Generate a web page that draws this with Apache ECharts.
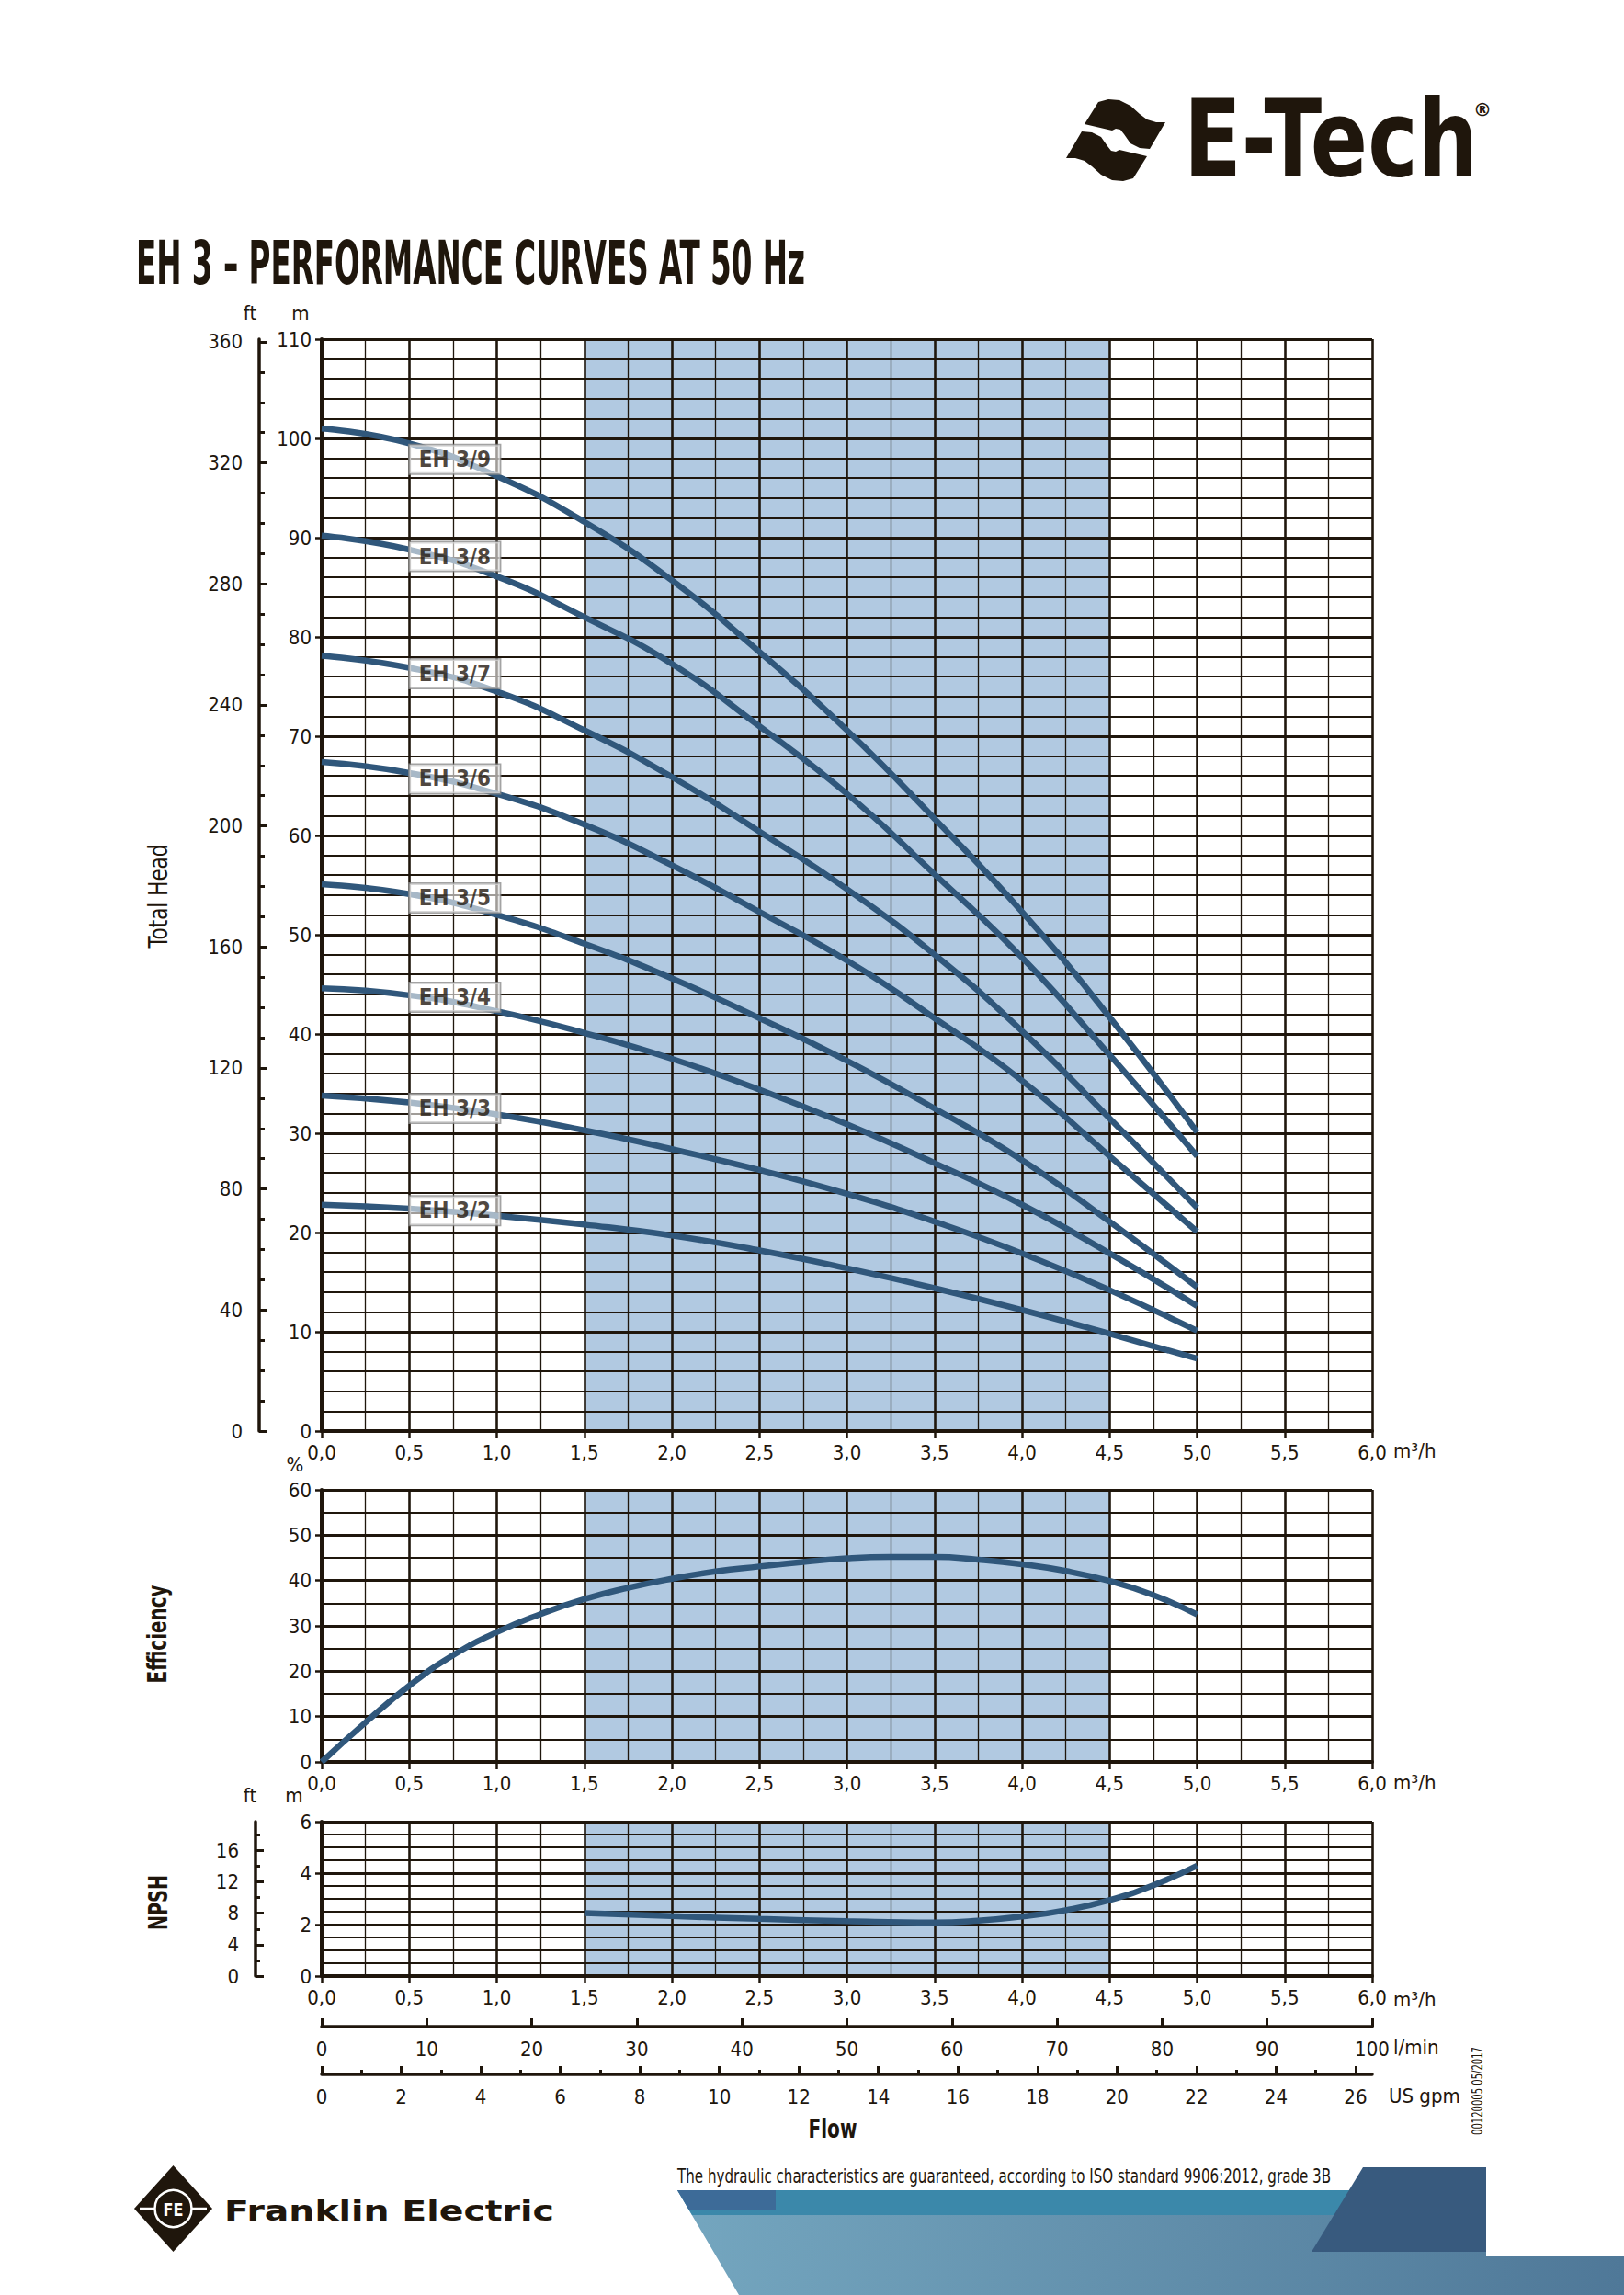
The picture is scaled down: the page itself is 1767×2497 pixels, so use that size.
<!DOCTYPE html>
<html>
<head>
<meta charset="utf-8">
<title>EH 3 - Performance curves at 50 Hz</title>
<script src="https://cdn.jsdelivr.net/npm/echarts@6.0.0/dist/echarts.min.js"></script>
<style>
  html, body { margin: 0; padding: 0; background: #fff; }
  #chart { width: 1767px; height: 2497px; }
</style>
</head>
<body>
<div id="chart"></div>
<script>
/* curve data (flow in m3/h, head in m) */
var flowQ = [0, 0.5, 1.0, 1.5, 2.0, 2.5, 3.0, 3.5, 4.0, 4.5, 5.0];
var headEH32 = [22.8, 22.4, 21.7, 20.8, 19.7, 18.2, 16.4, 14.4, 12.2, 9.8, 7.3];
var headEH33 = [33.8, 33.1, 31.9, 30.3, 28.4, 26.3, 23.9, 21.1, 17.9, 14.2, 10.1];
var headEH34 = [44.6, 43.9, 42.3, 40.1, 37.5, 34.4, 30.9, 27.0, 22.8, 17.9, 12.6];
var headEH35 = [55.1, 54.1, 52.0, 49.1, 45.6, 41.6, 37.3, 32.5, 27.3, 21.1, 14.5];
var headEH36 = [67.4, 66.3, 64.2, 61.1, 57.0, 52.3, 47.4, 41.6, 35.3, 27.7, 20.1];
var headEH37 = [78.1, 76.9, 74.5, 70.6, 65.9, 60.4, 54.6, 48.0, 40.3, 31.5, 22.5];
var headEH38 = [90.2, 88.8, 86.1, 82.0, 77.3, 71.0, 64.2, 56.1, 47.7, 37.9, 27.7];
var headEH39 = [101.0, 99.5, 96.2, 91.6, 85.7, 78.5, 70.6, 61.7, 52.3, 41.7, 30.1];
var models = ['EH 3/2', 'EH 3/3', 'EH 3/4', 'EH 3/5', 'EH 3/6', 'EH 3/7', 'EH 3/8', 'EH 3/9'];
var labelFlow = 0.76;
var labelHead = [22.2, 32.5, 43.7, 53.7, 65.7, 76.3, 88.1, 97.9];

/* efficiency % */
var effFlow = [0, 0.25, 0.5, 0.75, 1.0, 1.25, 1.5, 1.75, 2.0, 2.25, 2.5, 2.75, 3.0, 3.25, 3.5, 3.75, 4.0, 4.25, 4.5, 4.75, 5.0];
var effValues = [0, 8.7, 16.8, 23.5, 28.6, 32.6, 35.9, 38.4, 40.4, 42.0, 43.1, 44.1, 44.9, 45.2, 45.2, 44.6, 43.6, 42.1, 39.9, 36.8, 32.5];

/* NPSH m */
var npshFlow = [1.5, 2.0, 2.5, 3.0, 3.5, 3.75, 4.0, 4.25, 4.5, 4.75, 5.0];
var npshValues = [2.45, 2.33, 2.22, 2.13, 2.08, 2.15, 2.31, 2.56, 2.95, 3.53, 4.29];

/* recommended range, axes */
var bandRange = [1.5, 4.5];
var headFtLabels = [0, 40, 80, 120, 160, 200, 240, 280, 320, 360];
var headFtMinor = [10, 20, 30, 50, 60, 70, 90, 100, 110, 130, 140, 150, 170, 180, 190, 210, 220, 230, 250, 260, 270, 290, 300, 310, 330, 340, 350];
var npshFtLabels = [0, 4, 8, 12, 16];
var npshFtMinor = [2, 6, 10, 14, 18];
var gpmLabels = [0, 2, 4, 6, 8, 10, 12, 14, 16, 18, 20, 22, 24, 26];
var gpmMinor = [1, 3, 5, 7, 9, 11, 13, 15, 17, 19, 21, 23, 25];

var M_TO_FT = 3.28084;
var M3H_TO_GPM = 4.40287;
var M3H_TO_LMIN = 1000 / 60;

var ink = '#1f160c';
var curveColor = '#30577b';
var bandColor = '#b1c9e1';
var narrow = "'Liberation Sans Narrow','DejaVu Sans Condensed',sans-serif";

var measureCtx = document.createElement('canvas').getContext('2d');
function fitScale(text, weight, size, family, width) {
    measureCtx.font = weight + ' ' + size + 'px ' + family;
    return width / measureCtx.measureText(text).width;
}
function fmtFlow(v) { return v.toFixed(1).replace('.', ','); }

var chart = echarts.init(document.getElementById('chart'), null, { renderer: 'svg' });

/* axes */
function flowAxis(gridIndex) {
    return {
        type: 'value', gridIndex: gridIndex, min: 0, max: 6, interval: 0.5, z: 3,
        axisLine: { show: true, onZero: false, lineStyle: { color: ink, width: 4 } },
        axisTick: { show: true, length: 8, lineStyle: { color: ink, width: 2.5 } },
        axisLabel: { color: ink, fontFamily: narrow, fontSize: 22, margin: 12, formatter: fmtFlow },
        splitLine: { show: true, lineStyle: { color: ink, width: 2.6 } },
        minorTick: { show: false, splitNumber: 2 },
        minorSplitLine: { show: true, lineStyle: { color: ink, width: 1.3 } }
    };
}
function valueAxis(gridIndex, max, interval, minorSplit) {
    return {
        type: 'value', gridIndex: gridIndex, min: 0, max: max, interval: interval, z: 3,
        axisLine: { show: true, onZero: false, lineStyle: { color: ink, width: 4 } },
        axisTick: { show: true, length: 7, lineStyle: { color: ink, width: 2.5 } },
        axisLabel: { color: ink, fontFamily: narrow, fontSize: 22, margin: 11 },
        splitLine: { show: true, lineStyle: { color: ink, width: 2.8 } },
        minorTick: { show: false, splitNumber: minorSplit },
        minorSplitLine: { show: true, lineStyle: { color: ink, width: 2 } }
    };
}
function rulerAxis(gridIndex, max, offset, ticks, len, withLabels) {
    return {
        type: 'value', gridIndex: gridIndex, min: 0, max: max, position: 'left', offset: offset, z: 3,
        axisLine: { show: withLabels, onZero: false, lineStyle: { color: ink, width: 3.5 } },
        axisTick: { show: true, inside: true, length: len, customValues: ticks, lineStyle: { color: ink, width: 3 } },
        axisLabel: { show: withLabels, customValues: ticks, color: ink, fontFamily: narrow, fontSize: 22, margin: 18 },
        splitLine: { show: false }
    };
}
function bottomScale(max, offset, opts) {
    return {
        type: 'value', gridIndex: 2, min: 0, max: max, position: 'bottom', offset: offset, z: 3,
        interval: opts.interval,
        axisLine: { show: opts.line, onZero: false, lineStyle: { color: ink, width: 3.5 } },
        axisTick: { show: true, inside: true, length: opts.len, customValues: opts.ticks, lineStyle: { color: ink, width: 3 } },
        axisLabel: { show: opts.labels, customValues: opts.ticks, color: ink, fontFamily: narrow, fontSize: 22, margin: 13 },
        splitLine: { show: false }
    };
}

var xAxes = [
    flowAxis(0), flowAxis(1), flowAxis(2),
    bottomScale(6 * M3H_TO_LMIN, 55, { interval: 10, line: true, len: 9, labels: true }),
    bottomScale(6 * M3H_TO_GPM, 107, { line: true, len: 9, labels: true, ticks: gpmLabels }),
    bottomScale(6 * M3H_TO_GPM, 107, { line: false, len: 5, labels: false, ticks: gpmMinor })
];
var yAxes = [
    valueAxis(0, 110, 10, 5),
    rulerAxis(0, 110 * M_TO_FT, 68, headFtLabels, 9, true),
    rulerAxis(0, 110 * M_TO_FT, 68, headFtMinor, 6, false),
    valueAxis(1, 60, 10, 2),
    valueAxis(2, 6, 2, 4),
    rulerAxis(2, 6 * M_TO_FT, 72, npshFtLabels, 9, true),
    rulerAxis(2, 6 * M_TO_FT, 72, npshFtMinor, 5, false)
];

/* series */
function bandSeries(xi, yi) {
    return {
        type: 'line', xAxisIndex: xi, yAxisIndex: yi, data: [], z: 1, silent: true,
        markArea: { silent: true, itemStyle: { color: bandColor }, data: [[{ xAxis: bandRange[0] }, { xAxis: bandRange[1] }]] }
    };
}
function curve(xi, yi, xs, ys, name) {
    return {
        type: 'line', name: name, xAxisIndex: xi, yAxisIndex: yi, z: 5, smooth: true, showSymbol: false,
        silent: true, lineStyle: { color: curveColor, width: 6.5 },
        data: xs.map(function (q, i) { return [q, ys[i]]; })
    };
}

var heads = [headEH32, headEH33, headEH34, headEH35, headEH36, headEH37, headEH38, headEH39];
var series = [bandSeries(0, 0), bandSeries(1, 3), bandSeries(2, 4)];
heads.forEach(function (h, i) { series.push(curve(0, 0, flowQ, h, models[i])); });
series.push(curve(1, 3, effFlow, effValues, 'Efficiency'));
series.push(curve(2, 4, npshFlow, npshValues, 'NPSH'));
models.forEach(function (m, i) {
    series.push({
        type: 'scatter', xAxisIndex: 0, yAxisIndex: 0, z: 7, silent: true,
        symbol: 'rect', symbolSize: 1, itemStyle: { color: 'rgba(0,0,0,0)' },
        data: [[labelFlow, labelHead[i]]],
        label: {
            show: true, position: 'inside', formatter: m,
            fontFamily: narrow, fontWeight: 'bold', fontSize: 24, color: ink,
            backgroundColor: 'rgba(255,255,255,0.72)', borderColor: '#8c8c8c', borderWidth: 1.5,
            padding: [4, 10, 3, 10]
        }
    });
});

/* page decorations */
var g = [];
function text(str, x, y, o) {
    o = o || {};
    var weight = o.weight || 'normal', size = o.size || 22, family = o.family || narrow;
    var el = {
        type: 'text', x: x, y: y, z: o.z || 10, silent: true, rotation: o.rotation || 0,
        style: { text: str, fill: o.color || ink, fontFamily: family, fontSize: size, fontWeight: weight,
                 align: o.align || 'left', verticalAlign: 'middle' }
    };
    if (o.width) { el.scaleX = fitScale(str, weight, size, family, o.width); }
    g.push(el);
}
function poly(points, fill, z) {
    g.push({ type: 'polygon', silent: true, z: z || 10, shape: { points: points }, style: { fill: fill } });
}

text('EH 3 – PERFORMANCE CURVES AT 50 Hz', 148, 287, { weight: 'bold', size: 66, width: 728 });

/* E-Tech logo: two swooshes, the lower one is the upper turned half a turn */
var swoosh = [[1180, 135], [1195, 111], [1206, 108], [1218, 109], [1230, 115], [1240, 124], [1248, 130],
    [1258, 133], [1268, 133], [1251, 162], [1240, 161], [1230, 156], [1223, 146], [1219, 141], [1214, 140], [1210, 142]];
poly(swoosh, ink);
poly(swoosh.map(function (p) { return [2428 - p[0], 305 - p[1]]; }), ink);
text('E-Tech', 1288, 151, { weight: 'bold', size: 115, family: "'DejaVu Sans',sans-serif", width: 320 });
text('®', 1613, 119, { weight: 'bold', size: 20, family: "'DejaVu Sans',sans-serif", align: 'center' });

/* axis titles and units */
text('ft', 272, 340, { size: 22, align: 'center' });
text('m', 327, 340, { size: 22, align: 'center' });
text('%', 321, 1593, { size: 22, align: 'center' });
text('ft', 272, 1953, { size: 22, align: 'center' });
text('m', 320, 1953, { size: 22, align: 'center' });
text('Total Head', 172, 975, { size: 28, align: 'center', rotation: Math.PI / 2, width: 113 });
text('Efficiency', 172, 1778, { size: 28, weight: 'bold', align: 'center', rotation: Math.PI / 2, width: 107 });
text('NPSH', 172, 2070, { size: 28, weight: 'bold', align: 'center', rotation: Math.PI / 2, width: 60 });
text('m³/h', 1516, 1578);
text('m³/h', 1516, 1939);
text('m³/h', 1516, 2175);
text('l/min', 1516, 2227);
text('US gpm', 1511, 2280);
text('Flow', 906, 2316, { size: 28, weight: 'bold', align: 'center', width: 53 });
text('00120005 05/2017', 1608, 2275, { size: 15, align: 'center', rotation: Math.PI / 2, width: 96 });

/* footer */
g.push({ type: 'polygon', silent: true, z: 8,
    shape: { points: [[737, 2383], [1617, 2383], [1617, 2455], [1767, 2455], [1767, 2497], [804, 2497]] },
    style: { fill: new echarts.graphic.LinearGradient(0, 0, 1, 0, [{ offset: 0, color: '#74a6bf' }, { offset: 1, color: '#4f7898' }]) } });
poly([[737, 2383], [1500, 2383], [1500, 2410], [753, 2410]], '#3b88aa', 9);
poly([[737, 2383], [844, 2383], [844, 2405], [750, 2405]], '#3d6b98', 9);
poly([[1483, 2358], [1617, 2358], [1617, 2450], [1427, 2450]], '#385a7e', 9);
text('The hydraulic characteristics are guaranteed, according to ISO standard 9906:2012, grade 3B', 737, 2368, { size: 22, width: 712 });

/* Franklin Electric logo */
poly([[146, 2403], [188.5, 2356], [231, 2403], [188.5, 2450]], ink, 10);
g.push({ type: 'line', silent: true, z: 11, shape: { x1: 152, y1: 2403, x2: 225, y2: 2403 }, style: { stroke: '#fff', lineWidth: 2.5 } });
g.push({ type: 'circle', silent: true, z: 12, shape: { cx: 188.5, cy: 2403, r: 20 }, style: { fill: ink, stroke: '#fff', lineWidth: 2.5 } });
text('FE', 188.5, 2404, { size: 20, weight: 'bold', color: '#fff', align: 'center', family: "'DejaVu Sans',sans-serif", width: 22, z: 14 });
text('Franklin Electric', 244, 2406, { size: 30, weight: 'bold', family: "'DejaVu Sans',sans-serif", width: 359 });

var option = {
    backgroundColor: '#ffffff',
    animation: false,
    grid: [
        { left: 350, top: 369, width: 1143, height: 1188, outerBoundsMode: 'none' },
        { left: 350, top: 1621, width: 1143, height: 296, outerBoundsMode: 'none' },
        { left: 350, top: 1982, width: 1143, height: 168, outerBoundsMode: 'none' }
    ],
    xAxis: xAxes,
    yAxis: yAxes,
    series: series,
    graphic: { elements: g }
};
chart.setOption(option);
</script>
</body>
</html>
